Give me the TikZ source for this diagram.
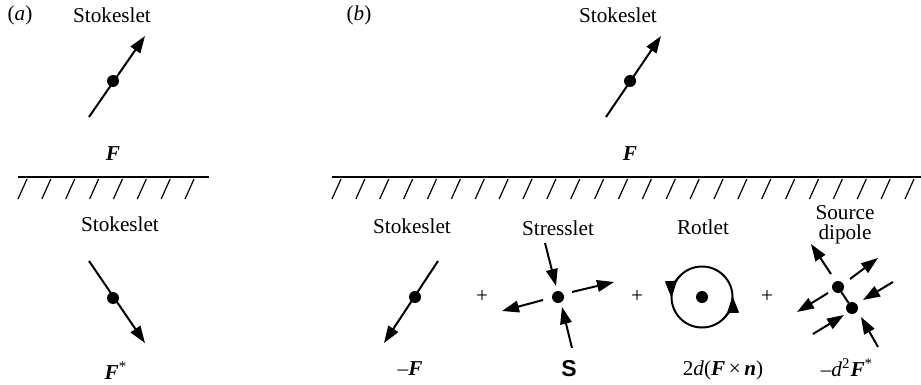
\documentclass[tikz,border=0pt]{standalone}
\usepackage{fontspec}
\setmainfont{Liberation Serif}
\newfontfamily\sansbold{Liberation Sans}
\usetikzlibrary{arrows.meta,calc}
\begin{document}
\begin{tikzpicture}[x=0.5pt,y=-0.5pt,
  every node/.style={inner sep=0pt,outer sep=0pt,font=\fontsize{10.6}{12}\selectfont},
  dot/.style={circle,fill=black,minimum size=6pt},
  arr/.style={line width=1pt,-{Triangle[length=8.5pt,width=5.8pt]}},
  wall/.style={line width=1pt},
  hatch/.style={line width=0.6pt},
  lab/.style={anchor=center}]
\useasboundingbox (0,0) rectangle (921,385);
\begin{scope}
\clip (0,0) rectangle (921,385);
% ---------- panel (a)
\node[lab] (la) at (20,15) {(\textit{a})};
\node[lab] (sa1) at (112,15) {Stokeslet};
\coordinate (a1s) at (89,117);
\coordinate (a1t) at (145,36);
\draw[arr] (a1s) -- (a1t);
\node[dot] (a1d) at (113,81) {};
\node[lab] (fa1) at (113,154) {\textbf{\textit{F}}};
\coordinate (wa1) at (18,177);
\coordinate (wa2) at (209,177);
\draw[wall] (wa1) -- (wa2);
\foreach \i in {0,...,7}{
  \draw[hatch] (18+23.86*\i,199) -- (27+23.86*\i,179);
}
\node[lab] (sa2) at (120,224) {Stokeslet};
\coordinate (a2s) at (89,261);
\coordinate (a2t) at (145,343);
\draw[arr] (a2s) -- (a2t);
\node[dot] (a2d) at (113,298) {};
\node[lab] (fa2) at (116,371) {\textbf{\textit{F}}\textsuperscript{*}};
% ---------- panel (b)
\node[lab] (lb) at (359,15) {(\textit{b})};
\node[lab] (sb1) at (618,15) {Stokeslet};
\coordinate (b1s) at (606,117);
\coordinate (b1t) at (661,36);
\draw[arr] (b1s) -- (b1t);
\node[dot] (b1d) at (630,81) {};
\node[lab] (fb1) at (630,154) {\textbf{\textit{F}}};
\coordinate (wb1) at (332,177);
\coordinate (wb2) at (921,177);
\draw[wall] (wb1) -- (wb2);
\foreach \i in {0,...,24}{
  \draw[hatch] (332+23.875*\i,199) -- (341+23.875*\i,179);
}
% Stokeslet image
\node[lab] (sb2) at (412,226) {Stokeslet};
\coordinate (b2s) at (438,261);
\coordinate (b2t) at (384,343);
\draw[arr] (b2s) -- (b2t);
\node[dot] (b2d) at (415,297) {};
\node[lab] (fb2) at (410,369) {–\textbf{\textit{F}}};
\node[lab] (p1) at (482,297) {+};
% Stresslet
\node[lab] (ss) at (558,228) {Stresslet};
\node[dot] (sd) at (558,297) {};
\coordinate (s1s) at (545,243); \coordinate (s1t) at (556,286);
\coordinate (s2s) at (572,348); \coordinate (s2t) at (562,307);
\coordinate (s3s) at (572,292); \coordinate (s3t) at (614,282);
\coordinate (s4s) at (543,300); \coordinate (s4t) at (502,311);
\draw[arr] (s1s) -- (s1t);
\draw[arr] (s2s) -- (s2t);
\draw[arr] (s3s) -- (s3t);
\draw[arr] (s4s) -- (s4t);
\node[lab] (sS) at (569,369) {{\fontsize{11.5}{12}\sansbold\bfseries S}};
\node[lab] (p2) at (637,297) {+};
% Rotlet
\node[lab] (rl) at (703,227) {Rotlet};
\coordinate (rc) at (702,297);
\draw[line width=1pt] (rc) circle[radius=30.5];
\draw[arr] ($(rc)+(225:30.5)$) arc[start angle=225,end angle=178,radius=30.5];
\draw[arr] ($(rc)+(45:30.5)$) arc[start angle=45,end angle=-2,radius=30.5];
\node[dot] (rd) at (rc) {};
\node[lab] (rn) at (723,370) {2\textit{d}(\textbf{\textit{F}}\,×\,\textbf{\textit{n}})};
\node[lab] (p3) at (767,297) {+};
% Source dipole
\node[lab,align=center] (sdl) at (845,225) {Source\\[-2pt]dipole};
\node[dot] (q1) at (838,287) {};
\node[dot] (q2) at (852,308) {};
\draw[line width=1pt] (q1) -- (q2);
\coordinate (t1s) at (831,274); \coordinate (t1t) at (811,244);
\coordinate (t2s) at (850,279); \coordinate (t2t) at (878,258);
\coordinate (t3s) at (828,293); \coordinate (t3t) at (797,312);
\coordinate (t4s) at (893,282); \coordinate (t4t) at (863,300);
\coordinate (t5s) at (813,334); \coordinate (t5t) at (844,315);
\coordinate (t6s) at (878,347); \coordinate (t6t) at (861,317);
\foreach \k in {1,...,6}{ \draw[arr] (t\k s) -- (t\k t); }
\node[lab] (dF) at (847,368) {–\textit{d}\textsuperscript{2}\textbf{\textit{F}}\textsuperscript{*}};
\end{scope}
\end{tikzpicture}
\end{document}
